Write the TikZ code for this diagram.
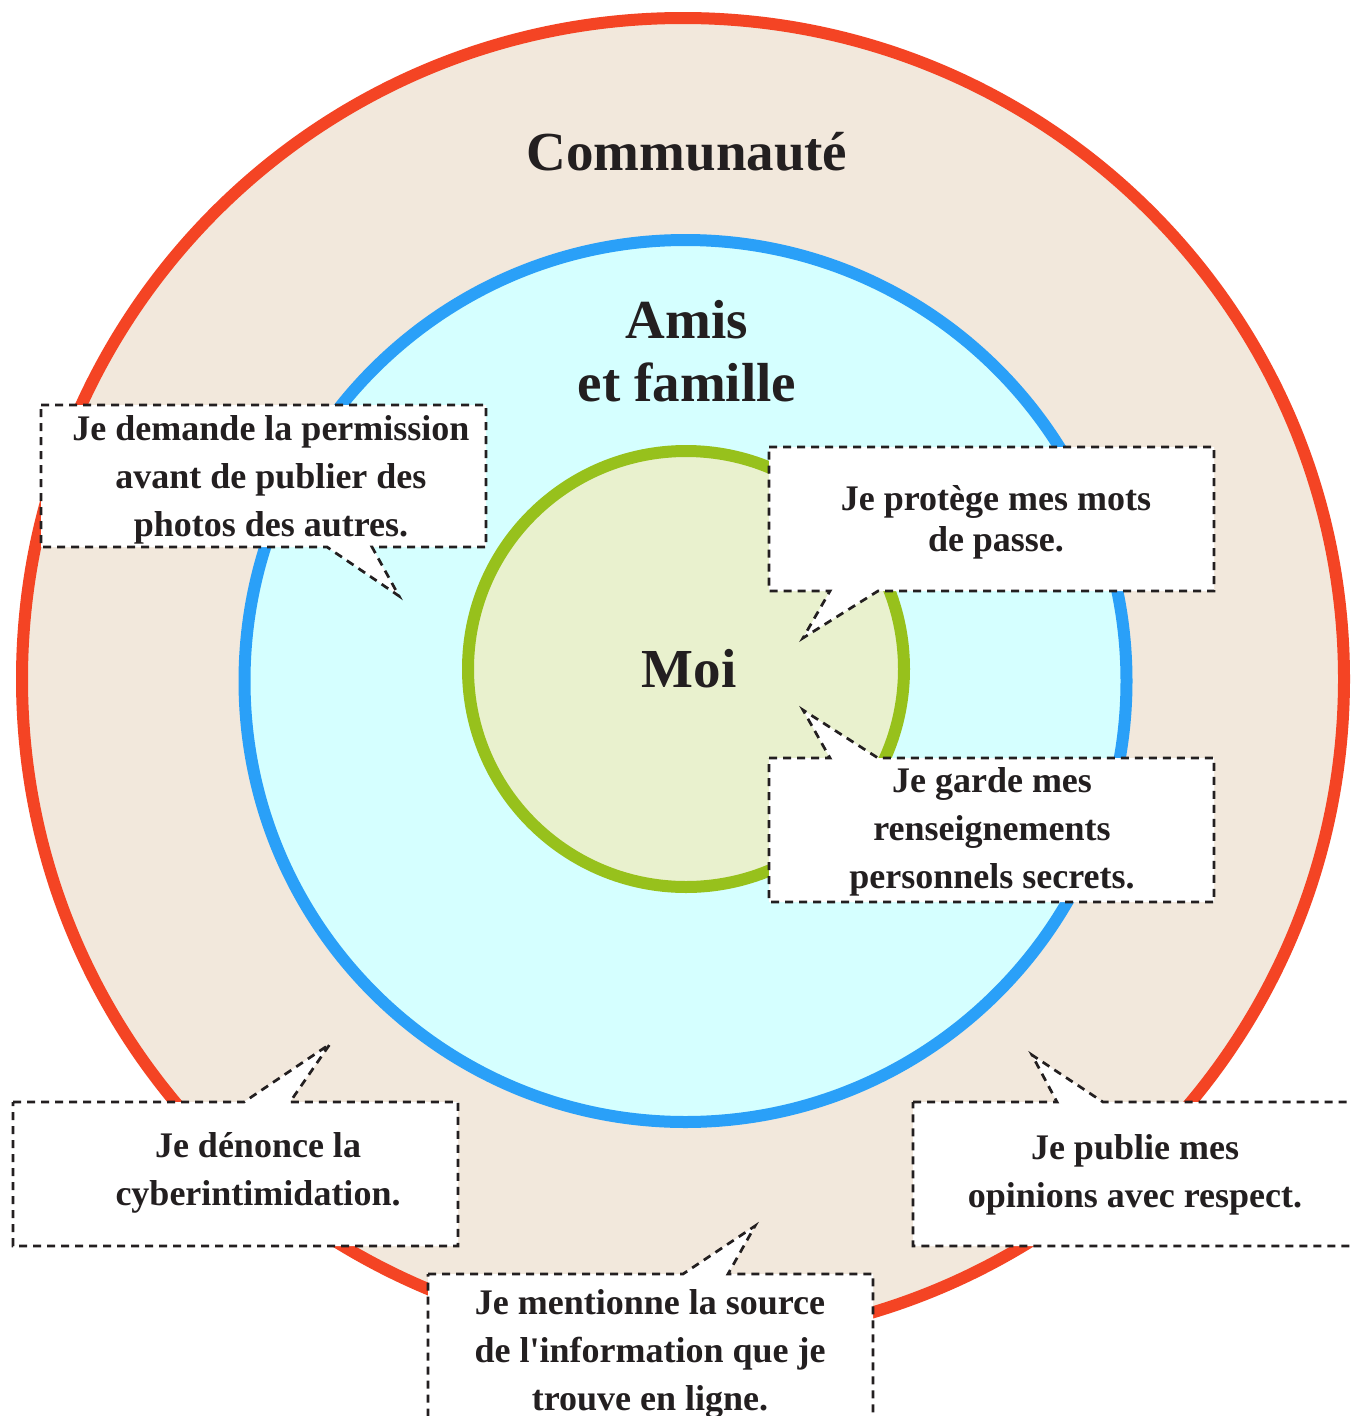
\documentclass[tikz,border=0pt]{standalone}
\usepackage{fontspec}
\setmainfont{Liberation Serif}
\definecolor{redc}{HTML}{F44424}
\definecolor{beige}{HTML}{F2E8DC}
\definecolor{bluec}{HTML}{2AA0F8}
\definecolor{cyanf}{HTML}{D5FFFF}
\definecolor{greenc}{HTML}{97C11C}
\definecolor{greenf}{HTML}{E9F1CE}
\definecolor{ink}{HTML}{231F20}
\begin{document}
\begin{tikzpicture}[x=1pt,y=-1pt,
  ring/.style={line width=12pt},
  callout/.style={draw=ink, fill=white, line width=2.7pt, dash pattern=on 8pt off 6pt, line join=miter},
  txt/.style={font=\fontsize{36}{48}\selectfont\bfseries, text=ink, align=center, anchor=base, inner sep=0pt},
  bigtxt/.style={font=\fontsize{55}{63}\selectfont\bfseries, text=ink, align=center, anchor=base, inner sep=0pt}]
\useasboundingbox (0,0) rectangle (1351,1416);
\clip (0,0) rectangle (1351,1416);
\fill[white] (0,0) rectangle (1351,1416);
% rings
\draw[ring, draw=redc, fill=beige] (683,679) circle[radius=661pt];
\draw[ring, draw=bluec, fill=cyanf] (685.5,681) circle[radius=441pt];
\draw[ring, draw=greenc, fill=greenf] (686,669) circle[radius=218pt];
% callouts
\draw[callout] (41,405) -- (486,405) -- (486,547) -- (372,547) -- (399,596) -- (327,547) -- (41,547) -- cycle;
\draw[callout] (769,447) -- (1214,447) -- (1214,591) -- (878,591) -- (803,638) -- (830,591) -- (769,591) -- cycle;
\draw[callout] (769,758) -- (830,758) -- (803,710) -- (878,758) -- (1214,758) -- (1214,902) -- (769,902) -- cycle;
\draw[callout] (13,1102) -- (244,1102) -- (330,1044) -- (290,1102) -- (458,1102) -- (458,1246) -- (13,1246) -- cycle;
\draw[callout] (428,1274) -- (683,1274) -- (755,1226) -- (728,1274) -- (873,1274) -- (873,1440) -- (428,1440) -- cycle;
\draw[callout] (913,1102) -- (1057,1102) -- (1032,1055) -- (1103,1102) -- (1370,1102) -- (1370,1246) -- (913,1246) -- cycle;
% labels (anchor=base is the baseline of the last line)
\node[bigtxt] (communaute) at (687,170) {Communauté};
\node[bigtxt] (amis) at (687,401) {Amis\\et famille};
\node[bigtxt] (moi) at (689,687) {Moi};
\node[txt] (t1) at (271,536) {Je demande la permission\\avant de publier des\\photos des autres.};
\node[txt, font=\fontsize{36}{41}\selectfont\bfseries] (t2) at (996,551) {Je protège mes mots\\de passe.};
\node[txt] (t3) at (992,888) {Je garde mes\\renseignements\\personnels secrets.};
\node[txt] (t4) at (258,1205) {Je dénonce la\\cyberintimidation.};
\node[txt] (t5) at (650,1410) {Je mentionne la source\\de l{\textquotesingle}information que je\\trouve en ligne.};
\node[txt] (t6) at (1135,1207) {Je publie mes\\opinions avec respect.};
\end{tikzpicture}
\end{document}
